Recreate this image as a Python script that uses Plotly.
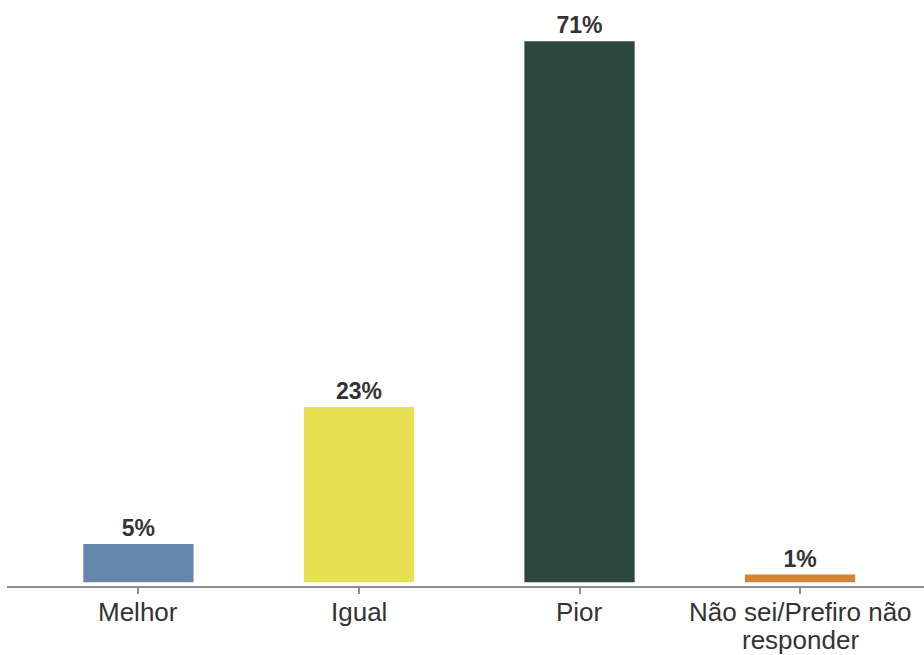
import plotly.graph_objects as go

categories = ["Melhor", "Igual", "Pior", "Não sei/Prefiro não<br>responder"]
values = [5, 23, 71, 1]
labels = ["5%", "23%", "71%", "1%"]
colors = ["#6587AE", "#E8DF53", "#2C473E", "#CF8437"]

FONT = "Liberation Sans, Arial, sans-serif"

fig = go.Figure(go.Bar(
    x=list(range(len(categories))),
    y=values,
    width=0.5,
    marker=dict(color=colors, line=dict(width=0)),
    text=labels,
    textposition="outside",
    textfont=dict(family=FONT, size=23, color="#333333", weight="bold"),
    cliponaxis=False,
    hoverinfo="skip",
))

# category labels as annotations (to control the line spacing of wrapped labels)
for i, cat in enumerate(categories):
    for j, line in enumerate(cat.split("<br>")):
        fig.add_annotation(
            x=i, y=0, xref="x", yref="paper",
            text=line, showarrow=False,
            xanchor="center", yanchor="top",
            yshift=-9 - 28 * j,
            font=dict(family=FONT, size=26, color="#333333"),
        )

fig.update_layout(
    width=924, height=655,
    margin=dict(l=7, r=0, t=0, b=69, autoexpand=False),
    paper_bgcolor="white", plot_bgcolor="white",
    showlegend=False,
    font=dict(family=FONT, color="#333333"),
    xaxis=dict(
        range=[-0.596, 3.562],
        tickmode="array",
        tickvals=list(range(len(categories))),
        showticklabels=False,
        automargin=False,
        showline=True, linecolor="#8C8C8C", linewidth=2,
        ticks="outside", ticklen=6, tickwidth=2, tickcolor="#8C8C8C",
        showgrid=False, zeroline=False,
    ),
    yaxis=dict(
        range=[-0.5, 76.4],
        visible=False, automargin=False,
        showgrid=False, zeroline=False,
    ),
)

fig.write_html(
    "out.html",
    config={"displayModeBar": False, "staticPlot": True},
    post_script="document.body.style.margin='0px';",
)
